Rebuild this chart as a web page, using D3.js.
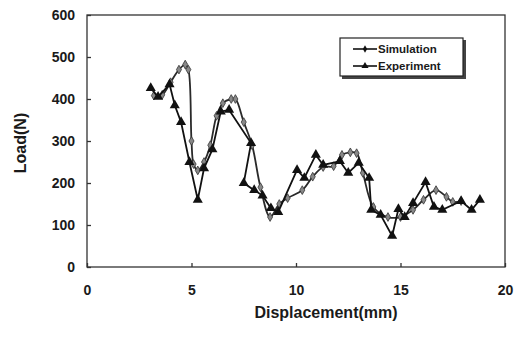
<!DOCTYPE html>
<html>
<head>
<meta charset="utf-8">
<script src="https://cdn.jsdelivr.net/npm/d3@7"></script>
<style>
  body { margin: 0; background: #fff; }
  svg { display: block; font-family: "Liberation Sans", Arial, sans-serif; }
  .axis text { font-weight: bold; font-size: 14px; fill: #1a1a1a; }
  .axis path, .axis line { stroke: #333; stroke-width: 1.3; }
</style>
</head>
<body>
<div id="chart"></div>
<script>
// Load-displacement data.
var simX = [3.2, 3.6, 4.0, 4.4, 4.7, 4.85, 5.0, 5.1, 5.3, 5.6, 5.9, 6.2, 6.5, 6.9, 7.1, 7.5, 7.9, 8.3, 8.76, 9.2, 9.6, 10.3, 10.8, 11.3, 11.8, 12.2, 12.6, 12.9, 13.2, 13.7, 14.4, 15.0, 15.6, 16.1, 16.7, 17.2, 17.5, 17.9];
var simY = [408, 410, 440, 470, 482, 470, 300, 245, 230, 250, 290, 360, 390, 400, 400, 345, 290, 190, 119, 150, 164, 183, 215, 238, 240, 267, 273, 271, 224, 143, 119, 119, 136, 160, 183, 167, 155, 157];

var expX = [3.05, 3.4, 3.95, 4.2, 4.5, 4.9, 5.3, 5.6, 6.0, 6.4, 6.8, 7.85, 7.5, 8.0, 8.4, 8.8, 9.15, 10.05, 10.4, 10.95, 11.3, 12.1, 12.5, 13.0, 13.5, 13.6, 14.05, 14.6, 14.9, 15.2, 15.6, 16.2, 16.6, 17.0, 17.9, 18.4, 18.8];
var expY = [426, 405, 435, 385, 345, 250, 160, 235, 280, 370, 374, 295, 200, 183, 170, 140, 131, 231, 212, 267, 243, 252, 224, 248, 212, 136, 124, 74, 138, 119, 152, 202, 143, 136, 157, 136, 160];

var xTicks = [0, 5, 10, 15, 20];
var yTicks = [0, 100, 200, 300, 400, 500, 600];
var seriesNames = ['Simulation', 'Experiment'];

var width = 515, height = 337;
var margin = {top: 15, right: 10, bottom: 70, left: 87};
var chartW = 505 - margin.left,
    chartH = 267 - margin.top;

var x = d3.scaleLinear().domain([0, 20]).range([0, chartW]);
var y = d3.scaleLinear().domain([0, 600]).range([chartH, 0]);

var svg = d3.select('#chart').append('svg')
    .attr('width', width)
    .attr('height', height);

var inner = svg.append('g')
    .attr('transform', translation(margin.left, margin.top));

// Frame
inner.append('rect')
    .attr('x', 0).attr('y', 0)
    .attr('width', chartW).attr('height', chartH)
    .attr('fill', 'none')
    .attr('stroke', '#333')
    .attr('stroke-width', 1.3);

// Axes with inward ticks
var xAxis = d3.axisBottom(x).tickValues(xTicks).tickSize(-4).tickPadding(18).tickFormat(d3.format('d'));
var yAxis = d3.axisLeft(y).tickValues(yTicks).tickSize(-4).tickPadding(12).tickFormat(d3.format('d'));

inner.append('g')
    .attr('class', 'axis axis-x')
    .attr('transform', translation(0, chartH))
    .call(xAxis)
    .call(function(g) { g.select('.domain').remove(); });

inner.append('g')
    .attr('class', 'axis axis-y')
    .call(yAxis)
    .call(function(g) { g.select('.domain').remove(); });

// Axis titles
svg.append('text')
    .attr('x', 326).attr('y', 318)
    .attr('text-anchor', 'middle')
    .attr('font-weight', 'bold')
    .attr('font-size', 16)
    .attr('fill', '#1a1a1a')
    .text('Displacement(mm)');

svg.append('text')
    .attr('transform', 'translate(26,143) rotate(-90)')
    .attr('text-anchor', 'middle')
    .attr('font-weight', 'bold')
    .attr('font-size', 16)
    .attr('fill', '#1a1a1a')
    .text('Load(N)');

var line = d3.line()
    .x(function(d) { return x(d[0]); })
    .y(function(d) { return y(d[1]); });

var simData = d3.zip(simX, simY);
var expData = d3.zip(expX, expY);

var diamond = d3.symbol().type(d3.symbolDiamond).size(22);
var triangle = d3.symbol().type(d3.symbolTriangle).size(44);

// Simulation
inner.append('path')
    .datum(simData)
    .attr('fill', 'none')
    .attr('stroke', '#2a2a2a')
    .attr('stroke-width', 1.8)
    .attr('d', line.curve(d3.curveCatmullRom.alpha(0.5)));

inner.selectAll('.sim-pt')
    .data(simData)
    .enter().append('path')
    .attr('class', 'sim-pt')
    .attr('transform', function(d) { return translation(x(d[0]), y(d[1])); })
    .attr('d', diamond)
    .attr('fill', '#888')
    .attr('stroke', '#333')
    .attr('stroke-width', 0.8);

// Experiment
inner.append('path')
    .datum(expData)
    .attr('fill', 'none')
    .attr('stroke', '#111')
    .attr('stroke-width', 1.8)
    .attr('d', line.curve(d3.curveLinear));

inner.selectAll('.exp-pt')
    .data(expData)
    .enter().append('path')
    .attr('class', 'exp-pt')
    .attr('transform', function(d) { return translation(x(d[0]), y(d[1])); })
    .attr('d', triangle)
    .attr('fill', '#111');

// Legend
var legend = svg.append('g').attr('transform', translation(340, 38));
legend.append('rect')
    .attr('x', 2).attr('y', 2).attr('width', 124).attr('height', 39)
    .attr('fill', '#444');
legend.append('rect')
    .attr('x', 0).attr('y', 0).attr('width', 123).attr('height', 38)
    .attr('fill', '#fff').attr('stroke', '#222').attr('stroke-width', 1.2);

seriesNames.forEach(function(name, i) {
  var ly = 11 + i * 17;
  legend.append('line')
      .attr('x1', 13).attr('x2', 37).attr('y1', ly).attr('y2', ly)
      .attr('stroke', '#111').attr('stroke-width', 1.6);
  legend.append('path')
      .attr('transform', translation(25, ly))
      .attr('d', i === 0 ? d3.symbol().type(d3.symbolDiamond).size(16) : d3.symbol().type(d3.symbolTriangle).size(22))
      .attr('fill', '#111');
  legend.append('text')
      .attr('x', 38).attr('y', ly + 4)
      .attr('font-weight', 'bold')
      .attr('font-size', 11.5)
      .attr('fill', '#1a1a1a')
      .text(name);
});

function translation(a, b) {
  return 'translate(' + a + ',' + b + ')';
}
</script>
</body>
</html>
